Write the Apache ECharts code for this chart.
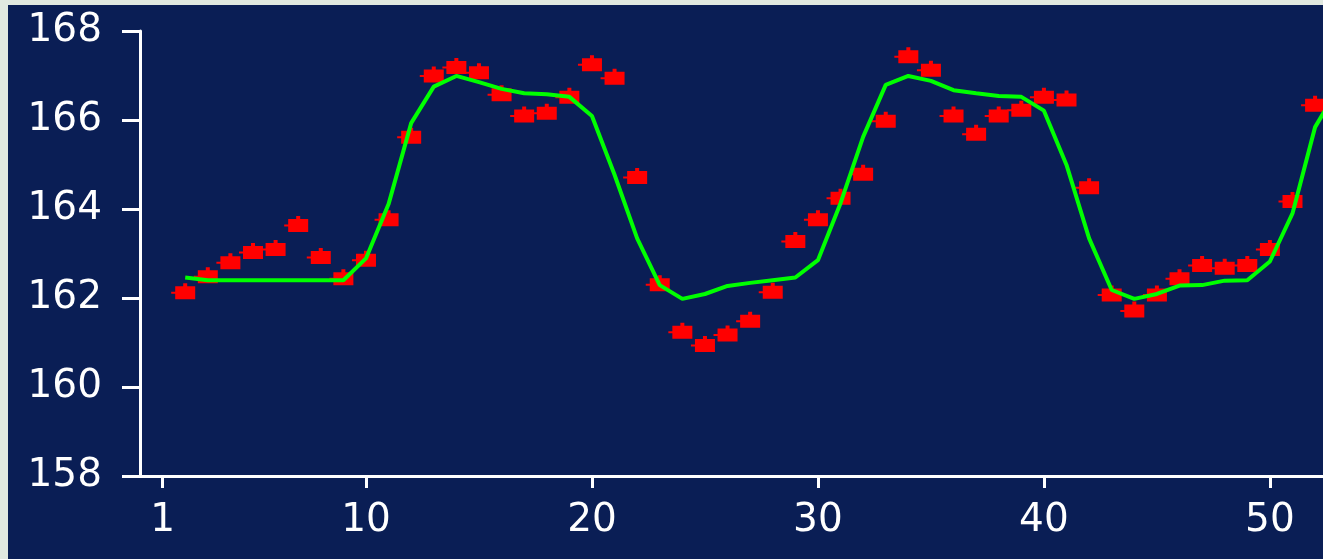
<!DOCTYPE html>
<html>
<head>
<meta charset="utf-8">
<script src="https://cdn.jsdelivr.net/npm/echarts@6/dist/echarts.min.js"></script>
<style>
  html, body { margin: 0; padding: 0; width: 1323px; height: 559px; background: #e1e9e1; overflow: hidden; }
  #chart { position: absolute; left: 8px; top: 5px; width: 1315px; height: 554px; background: #0a1e55; }
</style>
</head>
<body>
<div id="chart"></div>
<script>
// x positions of observations
const xValues = [2,3,4,5,6,7,8,9,10,11,12,13,14,15,16,17,18,19,20,21,22,23,24,25,26,27,28,29,30,31,32,33,34,35,36,37,38,39,40,41,42,43,44,45,46,47,48,49,50,51,52];
// observed values (red markers)
const observed = [162.12,162.48,162.79,163.02,163.09,163.63,162.91,162.43,162.85,163.76,
  165.61,166.99,167.18,167.06,166.57,166.09,166.15,166.51,167.24,166.94,
  164.71,162.30,161.23,160.93,161.17,161.48,162.13,163.27,163.76,164.24,
  164.78,165.97,167.42,167.12,166.09,165.68,166.09,166.22,166.51,166.45,
  164.48,162.07,161.71,162.07,162.43,162.73,162.67,162.73,163.09,164.17,166.33];
// fitted curve (green line), x = 2..53 (last point lies beyond the visible edge)
const fitX = [2,3,4,5,6,7,8,9,10,11,12,13,14,15,16,17,18,19,20,21,22,23,24,25,26,27,28,29,30,31,32,33,34,35,36,37,38,39,40,41,42,43,44,45,46,47,48,49,50,51,52,53];
const fitted = [162.46,162.40,162.40,162.40,162.40,162.40,162.40,162.40,162.89,164.11,
  165.93,166.75,166.99,166.85,166.70,166.60,166.58,166.52,166.09,164.77,
  163.34,162.29,161.98,162.09,162.27,162.34,162.40,162.46,162.85,164.13,
  165.62,166.79,166.99,166.88,166.67,166.60,166.54,166.52,166.21,164.99,
  163.34,162.18,161.98,162.09,162.28,162.29,162.39,162.40,162.82,163.90,165.84,166.70];
// tick labels
const xTicks = [1, 10, 20, 30, 40, 50];
const yMin = 158, yMax = 168, yStep = 2;

const chart = echarts.init(document.getElementById('chart'), null, { renderer: 'canvas' });
const labelFont = { color: '#ffffff', fontSize: 39, fontFamily: 'DejaVu Sans' };
// marker: 20x13 block with small cross stubs on top and left
const markerPath = 'path://M4,3L24,3L24,16L4,16L4,10.5L0,10.5L0,8.5L4,8.5ZM12,0L16,0L16,3L12,3Z';

chart.setOption({
  animation: false,
  backgroundColor: '#0a1e55',
  grid: { left: 132, top: 26, right: 0, bottom: 83, containLabel: false },
  xAxis: {
    type: 'value', min: 0, max: 52.35,
    splitLine: { show: false },
    axisLine: { show: true, onZero: false, lineStyle: { color: '#ffffff', width: 3 } },
    axisTick: { show: true, customValues: xTicks, length: 12, lineStyle: { color: '#ffffff', width: 3 } },
    axisLabel: Object.assign({ customValues: xTicks, margin: 25 }, labelFont)
  },
  yAxis: {
    type: 'value', min: yMin, max: yMax, interval: yStep,
    splitLine: { show: false },
    axisLine: { show: true, onZero: false, lineStyle: { color: '#ffffff', width: 3 } },
    axisTick: { show: true, length: 18, lineStyle: { color: '#ffffff', width: 3 } },
    axisLabel: Object.assign({ margin: 38 }, labelFont)
  },
  series: [
    {
      type: 'scatter',
      data: xValues.map((x, i) => [x, observed[i]]),
      symbol: markerPath,
      symbolSize: [24, 16],
      symbolOffset: [-2, -1.5],
      itemStyle: { color: '#ff0000', opacity: 1 },
      z: 2
    },
    {
      type: 'line',
      data: fitX.map((x, i) => [x, fitted[i]]),
      showSymbol: false,
      smooth: false,
      clip: true,
      lineStyle: { color: '#00ff00', width: 4 },
      z: 3
    }
  ]
});
</script>
</body>
</html>
